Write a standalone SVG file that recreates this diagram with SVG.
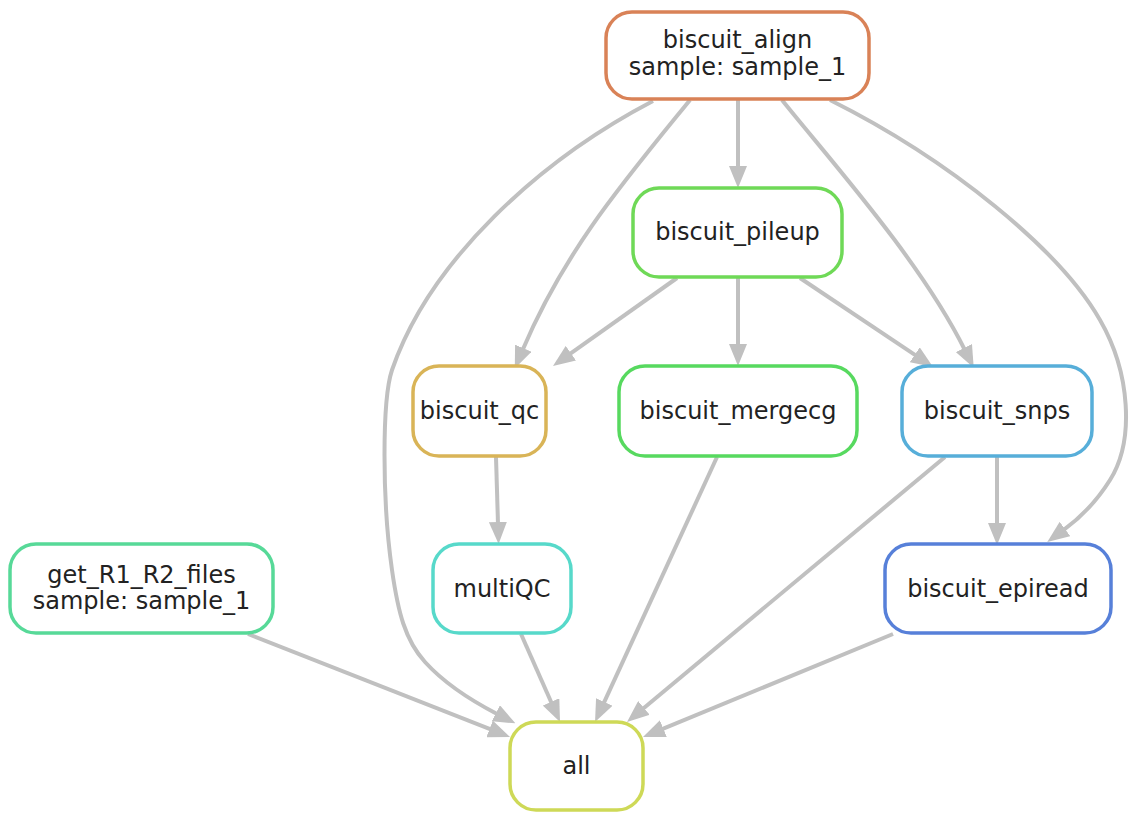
<svg xmlns="http://www.w3.org/2000/svg" width="1133" height="820" viewBox="0 0 1133 820">
<defs>
<style>
.n rect{fill:#fff;stroke-width:3.5}
.n text{font-family:"DejaVu Sans",sans-serif;font-size:24px;fill:#222;text-anchor:middle}
.e path{fill:none;stroke:#c0c0c0;stroke-width:4;marker-end:url(#ah)}
</style>
<marker id="ah" viewBox="0 0 22 18" refX="2" refY="9" markerWidth="22" markerHeight="18" markerUnits="userSpaceOnUse" orient="auto">
<path d="M0,0 L22,9 L0,18 z" fill="#c0c0c0"/>
</marker>
</defs>
<rect width="1133" height="820" fill="#fff"/>
<g id="edges" class="e">
<path d="M738,100 L738,168"/>
<path d="M738,278 L738,346"/>
<path d="M997,457 L997,525"/>
<path d="M496,457 L498,524"/>
<path d="M677,278 L569.3,354.4"/>
<path d="M800,278 L916.4,355.9"/>
<path d="M690,100 C625,180 565,250 522.6,350"/>
<path d="M782,100 C830,160 920,260 964.8,349.8"/>
<path d="M830,100 C950,160 1060,250 1100,320 C1130,372 1135,440 1110,480 C1095,504 1080,518 1063.4,530.2"/>
<path d="M653,101 C540,160 430,260 392,370 C382,400 382,500 392,570 C398,612 405,640 425,662 C445,684 470,700 497.6,714.2"/>
<path d="M248,634 L491.4,729.7"/>
<path d="M521,634 L551.9,703.7"/>
<path d="M717,457 L603.4,703.8"/>
<path d="M945,457 L642.4,709.2"/>
<path d="M893,634 L661.5,729.4"/>
</g>
<g id="biscuit_align" class="n"><rect x="606" y="12" width="263" height="87" rx="26" stroke="#D98257"/><text x="737.5" y="48">biscuit_align</text><text x="737.5" y="75">sample: sample_1</text></g>
<g id="biscuit_pileup" class="n"><rect x="633" y="188" width="209" height="89" rx="26" stroke="#6FD957"/><text x="737.5" y="240">biscuit_pileup</text></g>
<g id="biscuit_qc" class="n"><rect x="413" y="366" width="133" height="90" rx="26" stroke="#D9B457"/><text x="479.5" y="419">biscuit_qc</text></g>
<g id="biscuit_mergecg" class="n"><rect x="619" y="366" width="238" height="90" rx="26" stroke="#57D95F"/><text x="738" y="419">biscuit_mergecg</text></g>
<g id="biscuit_snps" class="n"><rect x="902" y="366" width="190" height="90" rx="26" stroke="#57AED9"/><text x="997" y="419">biscuit_snps</text></g>
<g id="multiQC" class="n"><rect x="433" y="544" width="138" height="89" rx="26" stroke="#57D9CA"/><text x="502" y="597">multiQC</text></g>
<g id="biscuit_epiread" class="n"><rect x="885" y="544" width="226" height="89" rx="26" stroke="#5780D9"/><text x="998" y="597">biscuit_epiread</text></g>
<g id="get_R1_R2_files" class="n"><rect x="10" y="544" width="263" height="89" rx="26" stroke="#57D998"/><text x="141.5" y="583">get_R1_R2_files</text><text x="141.5" y="609">sample: sample_1</text></g>
<g id="all" class="n"><rect x="510" y="722" width="133" height="88" rx="26" stroke="#CED957"/><text x="576.5" y="774">all</text></g>
</svg>
